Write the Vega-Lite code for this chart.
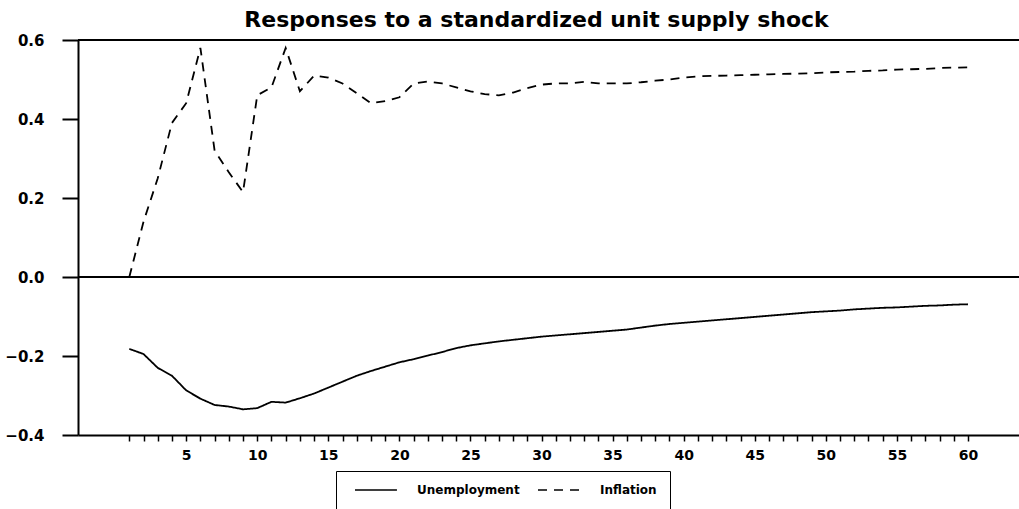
{
  "$schema": "https://vega.github.io/schema/vega-lite/v6.json",
  "autosize": {"type": "none"},
  "width": 941,
  "height": 395,
  "padding": {"left": 78, "top": 40, "right": 0, "bottom": 74},
  "background": "white",
  "config": {"view": {"stroke": null}},
  "title": {
    "text": "Responses to a standardized unit supply shock",
    "font": "DejaVu Sans",
    "fontWeight": "bold",
    "fontSize": 22,
    "color": "black",
    "anchor": "middle",
    "frame": "group",
    "dx": -12,
    "dy": 22,
    "offset": 1,
    "baseline": "bottom"
  },
  "data": {
    "values": [
      {"t":1,"s":"Unemployment","v":-0.182},{"t":2,"s":"Unemployment","v":-0.195},{"t":3,"s":"Unemployment","v":-0.23},{"t":4,"s":"Unemployment","v":-0.25},{"t":5,"s":"Unemployment","v":-0.287},{"t":6,"s":"Unemployment","v":-0.308},{"t":7,"s":"Unemployment","v":-0.324},{"t":8,"s":"Unemployment","v":-0.328},{"t":9,"s":"Unemployment","v":-0.335},{"t":10,"s":"Unemployment","v":-0.332},
      {"t":11,"s":"Unemployment","v":-0.316},{"t":12,"s":"Unemployment","v":-0.318},{"t":13,"s":"Unemployment","v":-0.307},{"t":14,"s":"Unemployment","v":-0.295},{"t":15,"s":"Unemployment","v":-0.28},{"t":16,"s":"Unemployment","v":-0.265},{"t":17,"s":"Unemployment","v":-0.25},{"t":18,"s":"Unemployment","v":-0.238},{"t":19,"s":"Unemployment","v":-0.227},{"t":20,"s":"Unemployment","v":-0.216},
      {"t":21,"s":"Unemployment","v":-0.208},{"t":22,"s":"Unemployment","v":-0.199},{"t":23,"s":"Unemployment","v":-0.19},{"t":24,"s":"Unemployment","v":-0.18},{"t":25,"s":"Unemployment","v":-0.173},{"t":26,"s":"Unemployment","v":-0.168},{"t":27,"s":"Unemployment","v":-0.163},{"t":28,"s":"Unemployment","v":-0.159},{"t":29,"s":"Unemployment","v":-0.155},{"t":30,"s":"Unemployment","v":-0.151},
      {"t":31,"s":"Unemployment","v":-0.148},{"t":32,"s":"Unemployment","v":-0.145},{"t":33,"s":"Unemployment","v":-0.142},{"t":34,"s":"Unemployment","v":-0.139},{"t":35,"s":"Unemployment","v":-0.136},{"t":36,"s":"Unemployment","v":-0.133},{"t":37,"s":"Unemployment","v":-0.128},{"t":38,"s":"Unemployment","v":-0.123},{"t":39,"s":"Unemployment","v":-0.119},{"t":40,"s":"Unemployment","v":-0.116},
      {"t":41,"s":"Unemployment","v":-0.113},{"t":42,"s":"Unemployment","v":-0.11},{"t":43,"s":"Unemployment","v":-0.107},{"t":44,"s":"Unemployment","v":-0.104},{"t":45,"s":"Unemployment","v":-0.101},{"t":46,"s":"Unemployment","v":-0.098},{"t":47,"s":"Unemployment","v":-0.095},{"t":48,"s":"Unemployment","v":-0.092},{"t":49,"s":"Unemployment","v":-0.089},{"t":50,"s":"Unemployment","v":-0.087},
      {"t":51,"s":"Unemployment","v":-0.085},{"t":52,"s":"Unemployment","v":-0.082},{"t":53,"s":"Unemployment","v":-0.08},{"t":54,"s":"Unemployment","v":-0.078},{"t":55,"s":"Unemployment","v":-0.077},{"t":56,"s":"Unemployment","v":-0.075},{"t":57,"s":"Unemployment","v":-0.073},{"t":58,"s":"Unemployment","v":-0.072},{"t":59,"s":"Unemployment","v":-0.07},{"t":60,"s":"Unemployment","v":-0.069},
      {"t":1,"s":"Inflation","v":0.0},{"t":2,"s":"Inflation","v":0.14},{"t":3,"s":"Inflation","v":0.25},{"t":4,"s":"Inflation","v":0.39},{"t":5,"s":"Inflation","v":0.44},{"t":6,"s":"Inflation","v":0.58},{"t":7,"s":"Inflation","v":0.32},{"t":8,"s":"Inflation","v":0.265},{"t":9,"s":"Inflation","v":0.215},{"t":10,"s":"Inflation","v":0.46},
      {"t":11,"s":"Inflation","v":0.48},{"t":12,"s":"Inflation","v":0.58},{"t":13,"s":"Inflation","v":0.47},{"t":14,"s":"Inflation","v":0.51},{"t":15,"s":"Inflation","v":0.505},{"t":16,"s":"Inflation","v":0.49},{"t":17,"s":"Inflation","v":0.465},{"t":18,"s":"Inflation","v":0.44},{"t":19,"s":"Inflation","v":0.445},{"t":20,"s":"Inflation","v":0.455},
      {"t":21,"s":"Inflation","v":0.49},{"t":22,"s":"Inflation","v":0.495},{"t":23,"s":"Inflation","v":0.49},{"t":24,"s":"Inflation","v":0.48},{"t":25,"s":"Inflation","v":0.47},{"t":26,"s":"Inflation","v":0.463},{"t":27,"s":"Inflation","v":0.46},{"t":28,"s":"Inflation","v":0.467},{"t":29,"s":"Inflation","v":0.478},{"t":30,"s":"Inflation","v":0.487},
      {"t":31,"s":"Inflation","v":0.49},{"t":32,"s":"Inflation","v":0.49},{"t":33,"s":"Inflation","v":0.494},{"t":34,"s":"Inflation","v":0.49},{"t":35,"s":"Inflation","v":0.49},{"t":36,"s":"Inflation","v":0.49},{"t":37,"s":"Inflation","v":0.493},{"t":38,"s":"Inflation","v":0.497},{"t":39,"s":"Inflation","v":0.5},{"t":40,"s":"Inflation","v":0.505},
      {"t":41,"s":"Inflation","v":0.508},{"t":42,"s":"Inflation","v":0.509},{"t":43,"s":"Inflation","v":0.51},{"t":44,"s":"Inflation","v":0.511},{"t":45,"s":"Inflation","v":0.512},{"t":46,"s":"Inflation","v":0.513},{"t":47,"s":"Inflation","v":0.514},{"t":48,"s":"Inflation","v":0.515},{"t":49,"s":"Inflation","v":0.516},{"t":50,"s":"Inflation","v":0.518},
      {"t":51,"s":"Inflation","v":0.519},{"t":52,"s":"Inflation","v":0.52},{"t":53,"s":"Inflation","v":0.522},{"t":54,"s":"Inflation","v":0.523},{"t":55,"s":"Inflation","v":0.525},{"t":56,"s":"Inflation","v":0.526},{"t":57,"s":"Inflation","v":0.527},{"t":58,"s":"Inflation","v":0.529},{"t":59,"s":"Inflation","v":0.53},{"t":60,"s":"Inflation","v":0.531}
    ]
  },
  "layer": [
    {
      "mark": {"type": "rule", "color": "black", "strokeWidth": 2},
      "encoding": {"y": {"datum": 0.6, "type": "quantitative", "scale": {"domain": [-0.4, 0.6], "nice": false, "zero": false}}}
    },
    {
      "mark": {"type": "rule", "color": "black", "strokeWidth": 2},
      "encoding": {"y": {"datum": 0, "type": "quantitative"}}
    },
    {
      "mark": {"type": "line", "color": "black", "strokeWidth": 1.8},
      "encoding": {
        "x": {
          "field": "t", "type": "quantitative",
          "scale": {"domain": [-2.61, 63.59], "nice": false, "zero": false},
          "axis": {
            "title": null,
            "values": [1,2,3,4,5,6,7,8,9,10,11,12,13,14,15,16,17,18,19,20,21,22,23,24,25,26,27,28,29,30,31,32,33,34,35,36,37,38,39,40,41,42,43,44,45,46,47,48,49,50,51,52,53,54,55,56,57,58,59,60],
            "labelExpr": "datum.value % 5 === 0 ? datum.label : ''",
            "grid": false,
            "domainColor": "black", "domainWidth": 2,
            "tickColor": "black", "tickWidth": 1.5, "tickSize": 6,
            "labelFont": "DejaVu Sans", "labelFontWeight": "bold", "labelFontSize": 14, "labelColor": "black",
            "labelPadding": 7, "labelFlush": false, "labelOverlap": false
          }
        },
        "y": {
          "field": "v", "type": "quantitative",
          "scale": {"domain": [-0.4, 0.6], "nice": false, "zero": false},
          "axis": {
            "title": null,
            "values": [-0.4, -0.2, 0, 0.2, 0.4, 0.6],
            "format": ".1f",
            "grid": false,
            "domainColor": "black", "domainWidth": 2,
            "tickColor": "black", "tickWidth": 2, "tickSize": 16,
            "labelFont": "DejaVu Sans", "labelFontWeight": "bold", "labelFontSize": 15, "labelColor": "black",
            "labelPadding": 18, "labelFlush": false, "labelOverlap": false
          }
        },
        "strokeDash": {
          "field": "s", "type": "nominal",
          "scale": {"domain": ["Unemployment", "Inflation"], "range": [[1, 0], [9, 7]]},
          "legend": {
            "title": null,
            "orient": "none",
            "legendX": 258,
            "legendY": 431,
            "direction": "horizontal",
            "strokeColor": "black",
            "padding": 13,
            "symbolType": "M0,0H8",
            "symbolSize": 110,
            "symbolFillColor": "transparent",
            "symbolStrokeColor": "black",
            "symbolStrokeWidth": 1.5,
            "labelFont": "DejaVu Sans",
            "labelFontWeight": "bold",
            "labelFontSize": 12,
            "labelColor": "black",
            "labelOffset": 56,
            "columnPadding": 12
          }
        }
      }
    }
  ]
}
